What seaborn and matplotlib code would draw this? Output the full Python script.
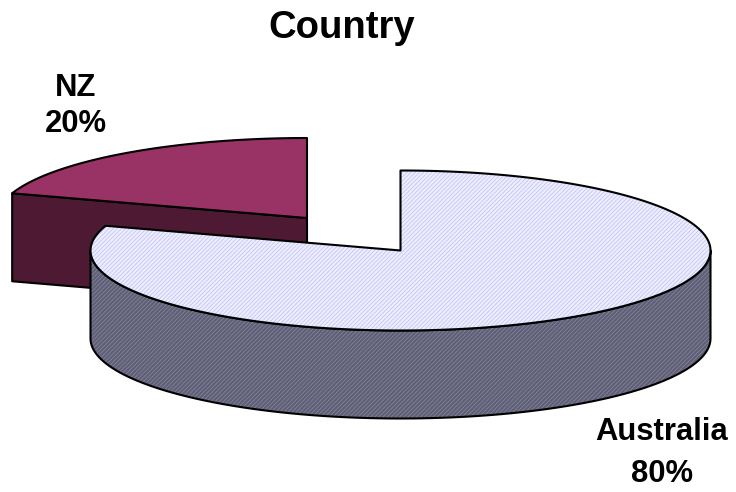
import numpy as np
import matplotlib
matplotlib.use("Agg")
import matplotlib.pyplot as plt
from matplotlib.patches import Polygon
import seaborn as sns

# Survey shares by country
countries = ["NZ", "Australia"]
shares = [20, 80]
title = "Country"

sns.set_theme(style="white")
plt.rcParams["font.family"] = ["Liberation Sans", "DejaVu Sans"]
plt.rcParams["hatch.linewidth"] = 0.6

palette = sns.color_palette(["#993366", "#C4C4F6"])
side_palette = sns.color_palette(["#4E1A33", "#5E5E7A"])

# Projection of the disc onto the page, in figure pixels
RX, RY, DEPTH = 310, 80, 88
CENTERS = {"NZ": (307, 218), "Australia": (400.5, 250.5)}


def rim(cx, cy, start, stop, drop=0, n=120):
    """Points along the rim; angles run clockwise from twelve o'clock."""
    t = np.radians(np.linspace(start, stop, n))
    return np.column_stack([cx + RX * np.sin(t), cy - RY * np.cos(t) + drop])


def add(ax, pts, face, hatch=None, hatch_color=None):
    if hatch:
        ax.add_patch(Polygon(pts, closed=True, facecolor=face, edgecolor="none", zorder=ax.zcount))
        ax.add_patch(Polygon(pts, closed=True, facecolor="none", edgecolor=hatch_color,
                             hatch=hatch, linewidth=0, zorder=ax.zcount))
        ax.add_patch(Polygon(pts, closed=True, facecolor="none", edgecolor="black",
                             linewidth=1.5, joinstyle="round", zorder=ax.zcount))
    else:
        ax.add_patch(Polygon(pts, closed=True, facecolor=face, edgecolor="black",
                             linewidth=1.5, joinstyle="round", zorder=ax.zcount))
    ax.zcount += 1


fig = plt.figure(figsize=(7.36, 4.92), dpi=100)
ax = fig.add_axes([0, 0, 1, 1])
ax.set_xlim(0, 736)
ax.set_ylim(492, 0)
ax.axis("off")
ax.zcount = 2

# Sweep of each slice: Australia starts at twelve o'clock, NZ takes the remainder
sweep = 360 * shares[1] / sum(shares)

# NZ slice sits behind: cut face first, then its top
cx, cy = CENTERS["NZ"]
edge = rim(cx, cy, sweep, 360, n=60)
left = edge[0]
add(ax, [left, (cx, cy), (cx, cy + DEPTH), left + (0, DEPTH)], side_palette[0])
add(ax, np.vstack([[(cx, cy)], edge]), palette[0])

# Australia slice: outer wall, then the top surface
cx, cy = CENTERS["Australia"]
low = rim(cx, cy, 90, 270, DEPTH)
high = rim(cx, cy, 270, 90)
add(ax, np.vstack([low, high]), side_palette[1], "////////", "#84848F")
top = np.vstack([[(cx, cy)], rim(cx, cy, 0, sweep, n=240)])
add(ax, top, "#EEEEFF", "////////", palette[1])

ax.text(342, 28, title, ha="center", va="center", fontsize=27.5, fontweight="bold", color="black")
ax.text(76, 106, f"{countries[0]}\n{shares[0]}%", ha="center", va="center", fontsize=22.3,
        fontweight="bold", color="black", linespacing=1.25)
ax.text(662, 453, f"{countries[1]}\n{shares[1]}%", ha="center", va="center", fontsize=22.3,
        fontweight="bold", color="black", linespacing=1.5)

fig.savefig("out.png", dpi=100, facecolor="white")
